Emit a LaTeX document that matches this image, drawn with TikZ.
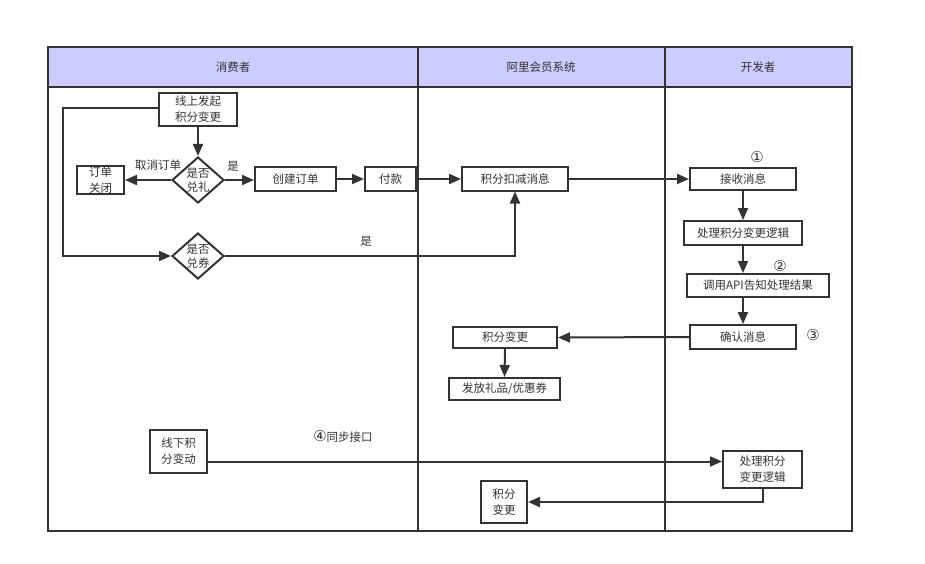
\documentclass[tikz,border=0pt]{standalone}
\usepackage{fontspec}
\setmainfont{Noto Sans CJK SC}
\newfontfamily\circfont{DejaVu Sans}
\usetikzlibrary{arrows.meta,shapes.geometric}
\definecolor{ln}{HTML}{333333}
\definecolor{hd}{HTML}{CCCCFF}
\begin{document}
\begin{tikzpicture}[x=1pt,y=-1pt,
  every node/.style={font=\fontsize{11.5}{16}\selectfont, text=ln},
  box/.style={draw=ln, line width=2pt, fill=white, inner sep=0pt, align=center},
  dia/.style={draw=ln, line width=2pt, fill=white, shape=diamond, inner sep=0pt, minimum width=52pt, minimum height=46pt},
  lbl/.style={inner sep=0pt},
  circ/.style={inner sep=0pt, font=\circfont\fontsize{15}{16}\selectfont},
  conn/.style={draw=ln, line width=2pt, -{Triangle[length=12pt,width=10pt]}},
  plain/.style={draw=ln, line width=2pt}]
\useasboundingbox (0,0) rectangle (925,564);
% frame and header
\fill[hd] (48,47) rectangle (852,87);
\draw[ln, line width=2.2pt] (48,47) rectangle (852,531);
\draw[ln, line width=2.2pt] (48,87) -- (852,87);
\draw[ln, line width=2.2pt] (418,47) -- (418,531);
\draw[ln, line width=2.2pt] (665,47) -- (665,531);
\node[lbl] (h1) at (233,67) {消费者};
\node[lbl] (h2) at (541,67) {阿里会员系统};
\node[lbl] (h3) at (758,67) {开发者};
% consumer lane
\node[box, minimum width=78pt, minimum height=33pt] (start) at (198,109.5) {线上发起\\积分变更};
\node[dia] (d1) at (198,180) {};
\node[lbl, align=center] (d1t) at (198,180.5) {是否\\[-2pt]兑礼};
\node[box, minimum width=47pt, minimum height=28pt] (close) at (100.5,180) {订单\\关闭};
\node[box, minimum width=81pt, minimum height=23pt] (create) at (295.5,179) {创建订单};
\node[box, minimum width=51pt, minimum height=23pt] (pay) at (390.5,179) {付款};
\node[dia] (d2) at (198,256) {};
\node[lbl, align=center] (d2t) at (198,256) {是否\\[-2pt]兑券};
\node[box, minimum width=57pt, minimum height=43pt] (offline) at (178.5,451.5) {线下积\\分变动};
\node[lbl] (t1) at (158,165) {取消订单};
\node[lbl] (t2) at (233,166) {是};
\node[lbl] (t3) at (366,241) {是};
\node[lbl] (t4) at (343,436) {{\circfont\fontsize{15}{16}\selectfont ④}同步接口};
% system lane
\node[box, minimum width=106pt, minimum height=23pt] (deduct) at (515,179) {积分扣减消息};
\node[box, minimum width=104pt, minimum height=21pt] (change) at (505,337.5) {积分变更};
\node[box, minimum width=111pt, minimum height=22pt] (gift) at (504.5,389) {发放礼品/优惠券};
\node[box, minimum width=46pt, minimum height=42pt] (chg2) at (504,502) {积分\\变更};
% developer lane
\node[box, minimum width=106pt, minimum height=22pt] (recv) at (743,179) {接收消息};
\node[box, minimum width=118pt, minimum height=24pt] (proc) at (743,233) {处理积分变更逻辑};
\node[box, minimum width=142pt, minimum height=23pt] (api) at (758,285.5) {调用API告知处理结果};
\node[box, minimum width=106pt, minimum height=24pt] (confirm) at (743,337) {确认消息};
\node[box, minimum width=79pt, minimum height=37pt] (proc2) at (762.5,469.5) {处理积分\\变更逻辑};
\node[circ] (n1) at (757,157) {①};
\node[circ] (n2) at (780,266) {②};
\node[circ] (n3) at (813,335) {③};
% connectors
\coordinate (lp1) at (63,108);
\coordinate (lp2) at (63,256);
\draw[conn] (start.south) -- (d1.north);
\draw[conn] (d1.west) -- (d1.west -| close.east);
\draw[conn] (d1.east) -- (d1.east -| create.west);
\draw[conn] (create.east) -- (pay.west);
\draw[conn] (pay.east) -- (deduct.west);
\draw[conn] (deduct.east) -- (recv.west);
\draw[conn] (start.west |- lp1) -- (lp1) -- (lp2) -- (d2.west);
\draw[conn] (d2.east) -| (deduct.south);
\draw[conn] (recv.south) -- (proc.north);
\draw[conn] (proc.south) -- (proc.south |- api.north);
\draw[conn] (confirm.north |- api.south) -- (confirm.north);
\draw[conn] (confirm.west) -- (change.east);
\draw[conn] (change.south) -- (gift.north);
\draw[conn] ([yshift=-10pt]offline.east) -- ([yshift=-10pt]offline.east -| proc2.west);
\draw[conn] (proc2.south) |- (chg2.east);
\end{tikzpicture}
\end{document}
